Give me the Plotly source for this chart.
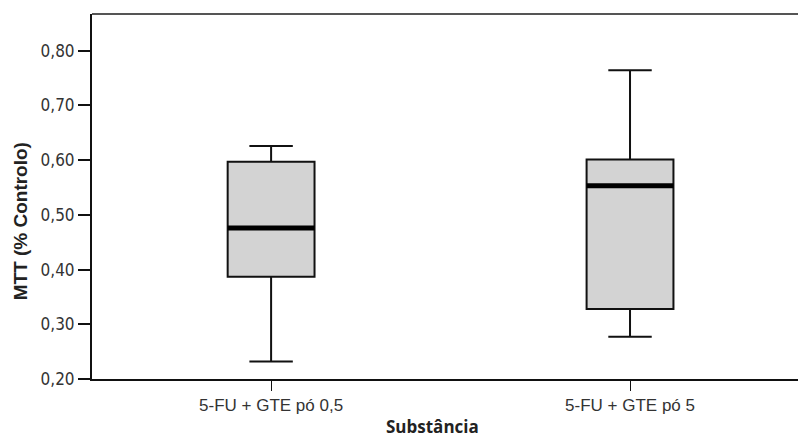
import plotly.graph_objects as go

categories = ["5-FU + GTE pó 0,5", "5-FU + GTE pó 5"]
lower_whisker = [0.232, 0.277]
q1 = [0.387, 0.328]
median = [0.476, 0.553]
q3 = [0.597, 0.601]
upper_whisker = [0.626, 0.764]
y_ticks = [0.20, 0.30, 0.40, 0.50, 0.60, 0.70, 0.80]

box_width = 0.242

fig = go.Figure()
for i, cat in enumerate(categories):
    fig.add_trace(go.Box(
        x=[i], q1=[q1[i]], median=[median[i]], q3=[q3[i]],
        lowerfence=[lower_whisker[i]], upperfence=[upper_whisker[i]],
        width=box_width, whiskerwidth=0.5,
        fillcolor="#d3d3d3", line=dict(color="#111111", width=2),
        boxpoints=False, showlegend=False, hoverinfo="skip",
    ))
    fig.add_shape(type="line", xref="x", yref="y",
                  x0=i - box_width / 2, x1=i + box_width / 2,
                  y0=median[i], y1=median[i],
                  line=dict(color="black", width=5))

# top frame line
fig.add_shape(type="line", xref="paper", yref="paper", x0=0, x1=1, y0=1, y1=1,
              line=dict(color="#555555", width=2))

# axis titles
fig.add_annotation(text="<b>Substância</b>", xref="paper", yref="paper",
                   x=0.4816, y=-0.092, yanchor="top", showarrow=False,
                   font=dict(family="Open Sans", size=17, color="#222222"))
fig.add_annotation(text="<b>MTT (% Controlo)</b>", xref="paper", yref="paper",
                   x=-0.1, xanchor="center", y=0.433, yanchor="middle",
                   textangle=-90, showarrow=False,
                   font=dict(family="Arial, Liberation Sans, sans-serif", size=19, color="#222222"))

fig.update_layout(
    width=798, height=439,
    margin=dict(l=92, r=0, t=14, b=60),
    plot_bgcolor="white", paper_bgcolor="white",
    separators=", ",
    font=dict(family="Arial, Liberation Sans, sans-serif", size=17, color="#333333"),
    xaxis=dict(
        tickmode="array", tickvals=list(range(len(categories))), ticktext=categories,
        range=[-0.499, 1.468],
        showline=True, linecolor="#111111", linewidth=2,
        ticks="outside", ticklen=10, tickcolor="#111111", tickwidth=1,
        showgrid=False, zeroline=False,
        tickfont=dict(size=17, color="#333333"),
    ),
    yaxis=dict(
        range=[0.20, 0.867],
        tickmode="array", tickvals=y_ticks, tickformat=".2f",
        showline=True, linecolor="#111111", linewidth=2,
        ticks="outside", ticklen=12, tickcolor="#111111", tickwidth=2,
        showgrid=False, zeroline=False,
        tickfont=dict(family="Liberation Sans Narrow, Arial Narrow, DejaVu Sans Condensed, Liberation Sans",
                      size=17, color="#333333"),
    ),
)

fig.write_html("out.html")
